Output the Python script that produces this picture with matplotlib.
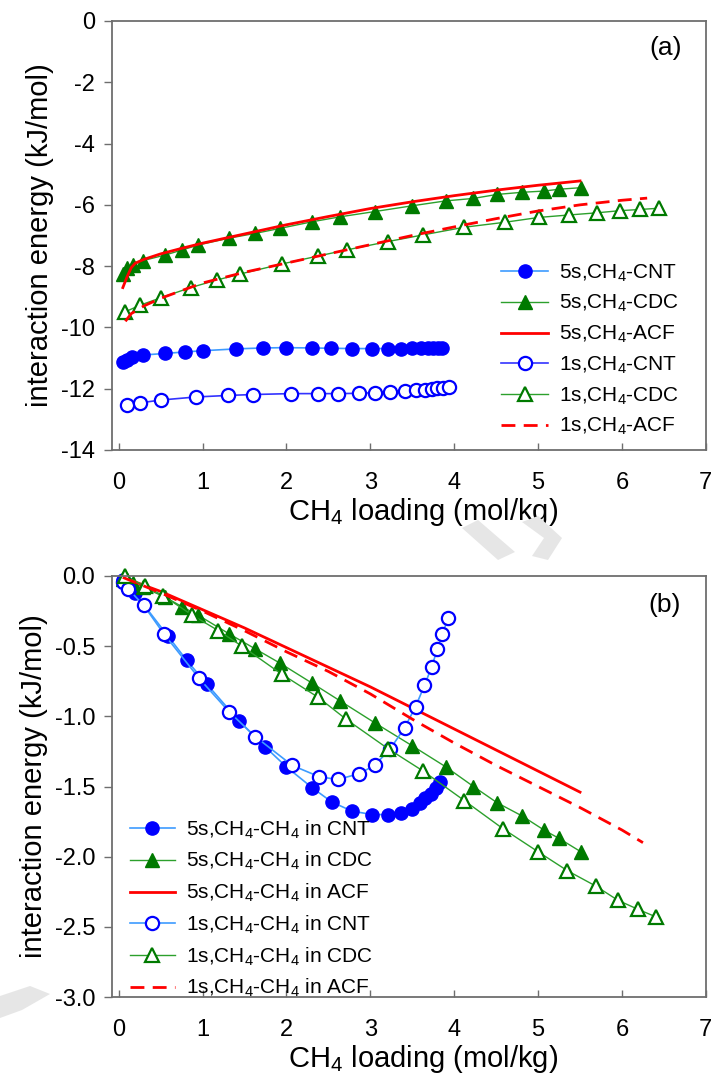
import matplotlib
matplotlib.use("Agg")
import matplotlib.pyplot as plt
from matplotlib.patches import Polygon

plt.rcParams['font.family'] = ['Liberation Sans', 'DejaVu Sans']
plt.rcParams['mathtext.fontset'] = 'custom'
plt.rcParams['mathtext.rm'] = 'Liberation Sans'
plt.rcParams['mathtext.default'] = 'regular'

# ---- panel (a): CH4-adsorbent interaction energy ----
a_cnt5_x = [0.05, 0.1, 0.16, 0.29, 0.55, 0.79, 1.01, 1.40, 1.72, 1.99, 2.30, 2.53, 2.78, 3.02, 3.21, 3.37, 3.50, 3.61, 3.69, 3.75, 3.81, 3.85]
a_cnt5_y = [-11.12, -11.05, -10.98, -10.90, -10.85, -10.80, -10.76, -10.70, -10.67, -10.66, -10.67, -10.68, -10.69, -10.69, -10.69, -10.69, -10.68, -10.68, -10.67, -10.67, -10.67, -10.66]
a_cdc5_x = [0.05, 0.1, 0.17, 0.29, 0.55, 0.76, 0.95, 1.31, 1.63, 1.92, 2.31, 2.64, 3.05, 3.50, 3.90, 4.23, 4.51, 4.81, 5.07, 5.25, 5.51]
a_cdc5_y = [-8.25, -8.05, -7.95, -7.82, -7.64, -7.47, -7.31, -7.09, -6.93, -6.77, -6.55, -6.39, -6.22, -6.03, -5.87, -5.79, -5.66, -5.59, -5.55, -5.49, -5.44]
a_acf5_x = [0.05, 0.1, 0.15, 0.2, 0.3, 0.5, 0.75, 1.0, 1.5, 2.0, 2.5, 3.0, 3.5, 4.0, 4.5, 5.0, 5.5]
a_acf5_y = [-8.7, -8.35, -8.05, -7.9, -7.78, -7.6, -7.42, -7.25, -6.95, -6.65, -6.38, -6.12, -5.9, -5.7, -5.52, -5.36, -5.22]
a_cnt1_x = [0.1, 0.26, 0.5, 0.92, 1.30, 1.60, 2.05, 2.38, 2.61, 2.86, 3.05, 3.24, 3.41, 3.54, 3.65, 3.73, 3.80, 3.87, 3.94]
a_cnt1_y = [-12.53, -12.46, -12.37, -12.27, -12.22, -12.19, -12.16, -12.16, -12.16, -12.15, -12.13, -12.10, -12.07, -12.05, -12.03, -12.01, -11.99, -11.97, -11.94]
a_cdc1_x = [0.07, 0.26, 0.505, 0.857, 1.175, 1.443, 1.945, 2.377, 2.72, 3.205, 3.63, 4.12, 4.60, 5.01, 5.37, 5.70, 5.975, 6.22, 6.44]
a_cdc1_y = [-9.5, -9.27, -9.03, -8.70, -8.45, -8.26, -7.93, -7.67, -7.47, -7.20, -6.98, -6.73, -6.57, -6.41, -6.33, -6.26, -6.19, -6.15, -6.11]
a_acf1_x = [0.08, 0.15, 0.3, 0.5, 0.75, 1.0, 1.5, 2.0, 2.5, 3.0, 3.5, 4.0, 4.5, 5.0, 5.5, 6.0, 6.3]
a_acf1_y = [-9.8, -9.55, -9.3, -9.05, -8.8, -8.55, -8.2, -7.9, -7.6, -7.3, -7.0, -6.72, -6.45, -6.2, -6.0, -5.85, -5.78]

# ---- panel (b): CH4-CH4 interaction energy ----
b_cnt5_x = [0.05, 0.1, 0.19, 0.59, 0.81, 1.05, 1.43, 1.75, 2.00, 2.31, 2.54, 2.78, 3.025, 3.21, 3.37, 3.50, 3.59, 3.65, 3.72, 3.78, 3.83]
b_cnt5_y = [-0.03, -0.06, -0.12, -0.43, -0.60, -0.77, -1.03, -1.22, -1.36, -1.51, -1.61, -1.675, -1.70, -1.70, -1.69, -1.66, -1.62, -1.58, -1.55, -1.51, -1.47]
b_cdc5_x = [0.05, 0.1, 0.17, 0.29, 0.55, 0.76, 0.95, 1.31, 1.63, 1.92, 2.31, 2.64, 3.05, 3.50, 3.90, 4.23, 4.51, 4.81, 5.07, 5.25, 5.51]
b_cdc5_y = [-0.02, -0.03, -0.05, -0.08, -0.15, -0.22, -0.28, -0.41, -0.52, -0.62, -0.765, -0.89, -1.045, -1.21, -1.36, -1.50, -1.615, -1.71, -1.81, -1.87, -1.965]
b_acf5_x = [0.05, 0.5, 1.0, 1.5, 2.0, 2.5, 3.0, 3.5, 4.0, 4.5, 5.0, 5.5]
b_acf5_y = [-0.01, -0.11, -0.24, -0.37, -0.51, -0.65, -0.79, -0.94, -1.09, -1.24, -1.39, -1.54]
b_cnt1_x = [0.05, 0.11, 0.30, 0.536, 0.96, 1.32, 1.63, 2.07, 2.39, 2.61, 2.86, 3.05, 3.24, 3.41, 3.54, 3.645, 3.73, 3.80, 3.86, 3.93]
b_cnt1_y = [-0.04, -0.09, -0.21, -0.41, -0.73, -0.97, -1.145, -1.35, -1.43, -1.45, -1.41, -1.35, -1.23, -1.08, -0.93, -0.78, -0.65, -0.52, -0.41, -0.30]
b_cdc1_x = [0.07, 0.31, 0.53, 0.88, 1.19, 1.47, 1.945, 2.38, 2.71, 3.21, 3.63, 4.12, 4.58, 5.00, 5.35, 5.69, 5.95, 6.19, 6.41]
b_cdc1_y = [0.0, -0.07, -0.14, -0.28, -0.39, -0.50, -0.70, -0.865, -1.02, -1.23, -1.39, -1.60, -1.80, -1.965, -2.10, -2.21, -2.31, -2.375, -2.43]
b_acf1_x = [0.05, 0.5, 1.0, 1.5, 2.0, 2.5, 3.0, 3.5, 4.0, 4.5, 5.0, 5.5, 6.0, 6.25]
b_acf1_y = [-0.01, -0.12, -0.25, -0.39, -0.54, -0.68, -0.84, -1.02, -1.19, -1.35, -1.50, -1.65, -1.81, -1.90]

a_labels = ['5s,CH$_4$-CNT', '5s,CH$_4$-CDC', '5s,CH$_4$-ACF',
            '1s,CH$_4$-CNT', '1s,CH$_4$-CDC', '1s,CH$_4$-ACF']
b_labels = ['5s,CH$_4$-CH$_4$ in CNT', '5s,CH$_4$-CH$_4$ in CDC', '5s,CH$_4$-CH$_4$ in ACF',
            '1s,CH$_4$-CH$_4$ in CNT', '1s,CH$_4$-CH$_4$ in CDC', '1s,CH$_4$-CH$_4$ in ACF']

BLUE = '#0000ff'
LBLUE = '#3d9bff'
GREEN = '#007a00'
LGREEN = '#2ca02c'
RED = '#ff0000'
SPINE = '#6e6e6e'
MS = 9.5


def style_axes(ax, ylim, yticks, ylabels):
    ax.set_xlim(-0.08, 7.0)
    ax.set_ylim(*ylim)
    ax.set_xticks(range(8))
    ax.set_yticks(yticks)
    ax.set_yticklabels(ylabels)
    for s in ax.spines.values():
        s.set_color(SPINE)
        s.set_linewidth(1.3)
    ax.tick_params(axis='x', direction='in', length=5, width=1, color=SPINE,
                   labelsize=17, pad=16)
    ax.tick_params(axis='y', direction='out', length=6, width=1, color=SPINE,
                   labelsize=17, pad=6)
    ax.set_xlabel('CH$_4$ loading (mol/kg)', fontsize=21, labelpad=1)
    ax.xaxis.label.set_x(0.524)
    ax.set_ylabel('interaction energy (kJ/mol)', fontsize=21, labelpad=5)


def draw(ax, data, labels, cnt1_color, clip):
    (c5x, c5y), (d5x, d5y), (f5x, f5y), (c1x, c1y), (d1x, d1y), (f1x, f1y) = data
    h = []
    h += ax.plot(c5x, c5y, '-o', color=LBLUE, lw=1.2, mfc=BLUE, mec=BLUE, ms=MS, clip_on=clip)
    h += ax.plot(d5x, d5y, '-^', color=LGREEN, lw=1.0, mfc=GREEN, mec=GREEN, ms=MS, clip_on=clip)
    h += ax.plot(f5x, f5y, '-', color=RED, lw=2.0, clip_on=clip)
    h += ax.plot(c1x, c1y, '-o', color=cnt1_color, lw=1.2, mfc='white', mec=BLUE, mew=1.6, ms=MS, clip_on=clip)
    h += ax.plot(d1x, d1y, '-^', color=LGREEN, lw=1.0, mfc='white', mec=GREEN, mew=1.6, ms=MS, clip_on=clip)
    h += ax.plot(f1x, f1y, '--', color=RED, lw=2.0, dashes=(5, 3), clip_on=clip)
    for line, lab in zip(h, labels):
        line.set_label(lab)
    return h


fig = plt.figure(figsize=(7.13, 10.88), dpi=100)

# faint watermark fragments of the manuscript page
W, H = 713.0, 1088.0
wm = [
    [(462, 528), (478, 520), (515, 552), (498, 560)],
    [(522, 522), (538, 516), (562, 538), (548, 560), (532, 556), (544, 538)],
    [(0, 996), (30, 986), (50, 994), (22, 1010), (0, 1018)],
]
for pts in wm:
    fig.patches.append(Polygon([(x / W, 1 - y / H) for x, y in pts], closed=True,
                               transform=fig.transFigure, facecolor='#e6e6e6',
                               edgecolor='none', zorder=0))

ax1 = fig.add_axes([0.157, 0.5864, 0.833, 0.3943])
ax2 = fig.add_axes([0.157, 0.0836, 0.833, 0.387])
for ax in (ax1, ax2):
    ax.patch.set_alpha(0)

draw(ax1, [(a_cnt5_x, a_cnt5_y), (a_cdc5_x, a_cdc5_y), (a_acf5_x, a_acf5_y),
           (a_cnt1_x, a_cnt1_y), (a_cdc1_x, a_cdc1_y), (a_acf1_x, a_acf1_y)],
     a_labels, '#3333ff', True)
style_axes(ax1, (-14, 0), range(-14, 1, 2), [str(v) for v in range(-14, 1, 2)])
ax1.text(0.933, 0.937, '(a)', transform=ax1.transAxes, fontsize=19, ha='center', va='center')
ax1.legend(loc='upper left', bbox_to_anchor=(0.655, 0.437), frameon=False, fontsize=15,
           handlelength=2.26, handletextpad=0.53, labelspacing=0.45, borderpad=0,
           borderaxespad=0)

draw(ax2, [(b_cnt5_x, b_cnt5_y), (b_cdc5_x, b_cdc5_y), (b_acf5_x, b_acf5_y),
           (b_cnt1_x, b_cnt1_y), (b_cdc1_x, b_cdc1_y), (b_acf1_x, b_acf1_y)],
     b_labels, LBLUE, False)
b_ticks = [-3.0, -2.5, -2.0, -1.5, -1.0, -0.5, 0.0]
style_axes(ax2, (-3.0, 0.0), b_ticks, ['%.1f' % v for v in b_ticks])
ax2.text(0.930, 0.931, '(b)', transform=ax2.transAxes, fontsize=19, ha='center', va='center')
ax2.legend(loc='upper left', bbox_to_anchor=(0.030, 0.424), frameon=False, fontsize=15,
           handlelength=2.16, handletextpad=0.53, labelspacing=0.45, borderpad=0,
           borderaxespad=0)

fig.savefig('out.png', dpi=100)
